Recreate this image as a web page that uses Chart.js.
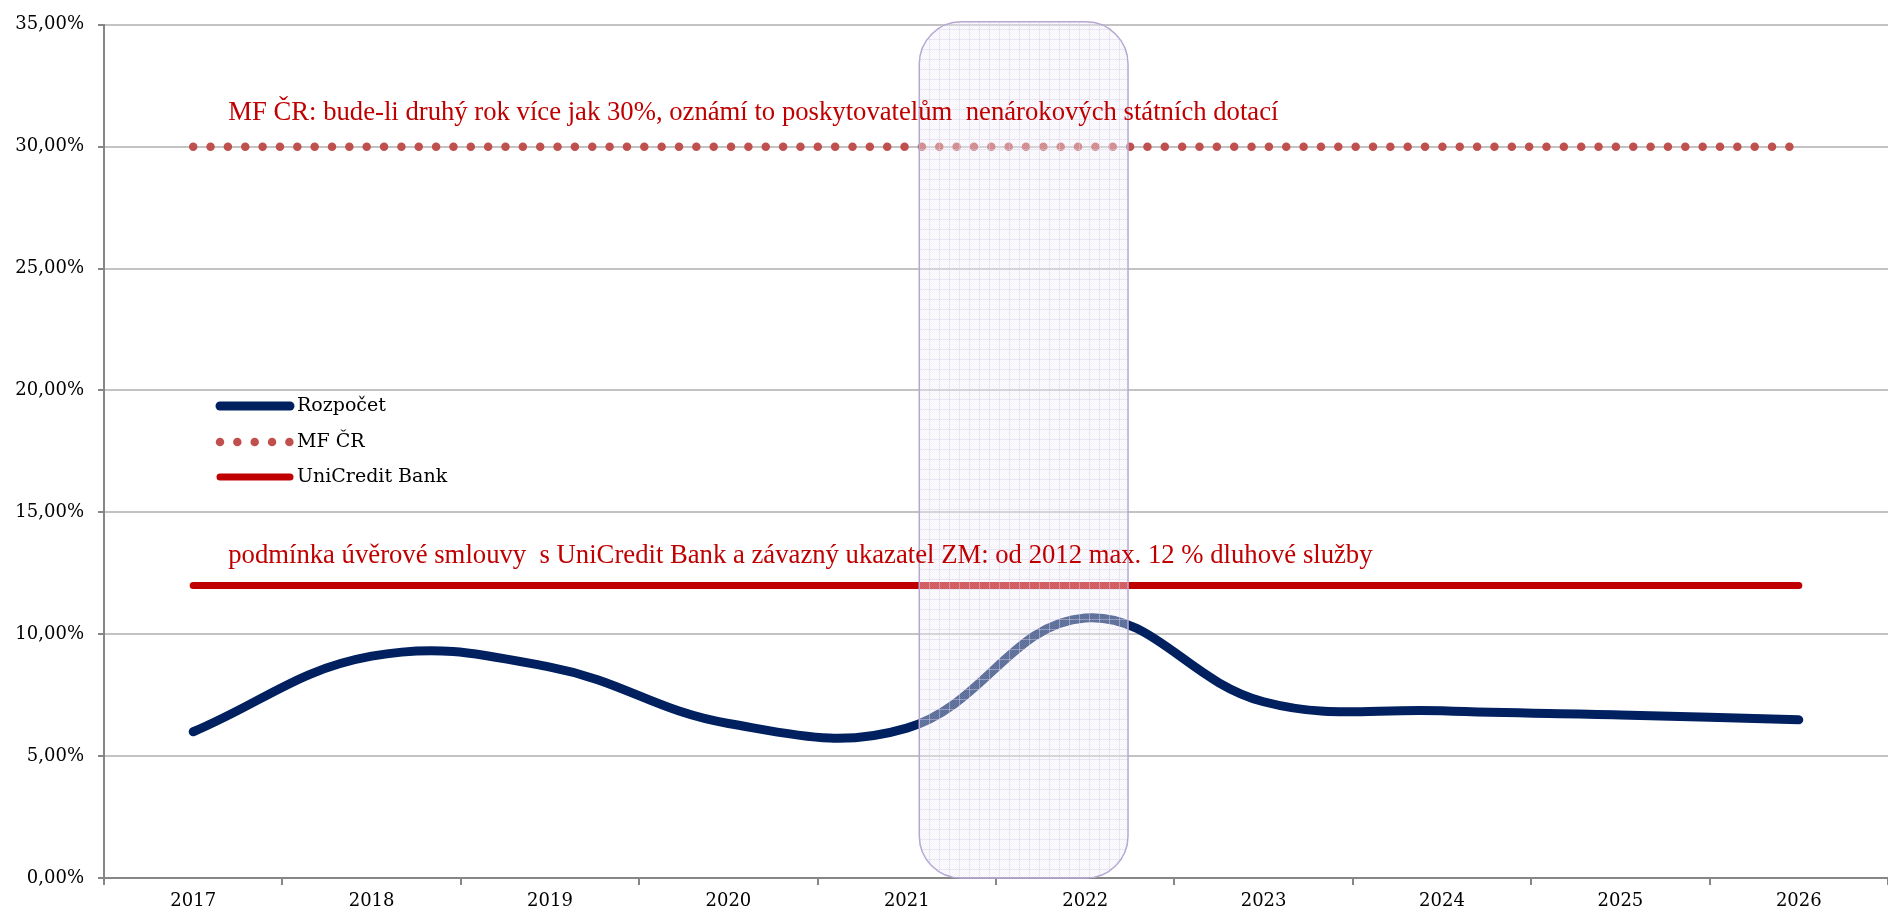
<!DOCTYPE html>
<html>
<head>
<meta charset="utf-8">
<title>Dluhová služba</title>
<script src="https://cdn.jsdelivr.net/npm/chart.js@4.4.1/dist/chart.umd.min.js"></script>
<style>
  html, body { margin: 0; padding: 0; background: #fff; }
  #wrap { width: 1888px; height: 916px; }
</style>
</head>
<body>
<div id="wrap"><canvas id="debt-chart" width="1888" height="916"></canvas></div>
<script>
// data (percent)
const years = ['2017', '2018', '2019', '2020', '2021', '2022', '2023', '2024', '2025', '2026'];
const rozpocet = [6.0, 9.1, 8.65, 6.34, 6.15, 10.67, 7.23, 6.86, 6.69, 6.49];
const mfCr = [30, 30, 30, 30, 30, 30, 30, 30, 30, 30];
const uniCredit = [12, 12, 12, 12, 12, 12, 12, 12, 12, 12];
const yTicks = [0, 5, 10, 15, 20, 25, 30, 35];

const mfNote = 'MF ČR: bude-li druhý rok více jak 30%, oznámí to poskytovatelům  nenárokových státních dotací';
const bankNote = 'podmínka úvěrové smlouvy  s UniCredit Bank a závazný ukazatel ZM: od 2012 max. 12 % dluhové služby';

// highlighted period 2021-2022 (category index units / percent)
const highlightX = [4.07, 5.24];
const highlightY = [0, 35.12];

const RED = '#c00000';
const TICK_FONT = { family: 'DejaVu Serif', size: 18 };

function fmtPct(v) {
  return v.toFixed(2).replace('.', ',') + '%';
}

function makeHatch(ctx) {
  const c = document.createElement('canvas');
  c.width = 10;
  c.height = 10;
  const p = c.getContext('2d');
  for (let y = 0; y < 10; y++) {
    for (let x = 0; x < 10; x++) {
      p.fillStyle = (x + y) % 2 ? 'rgba(255,255,255,0.4)' : 'rgba(226,221,240,0.4)';
      p.fillRect(x, y, 1, 1);
    }
  }
  p.fillStyle = 'rgba(214,206,232,0.45)';
  p.fillRect(9, 0, 1, 10);
  p.fillRect(0, 9, 10, 1);
  return ctx.createPattern(c, 'repeat');
}

function roundRect(ctx, x, y, w, h, r) {
  ctx.beginPath();
  ctx.moveTo(x + r, y);
  ctx.lineTo(x + w - r, y);
  ctx.arcTo(x + w, y, x + w, y + r, r);
  ctx.lineTo(x + w, y + h - r);
  ctx.arcTo(x + w, y + h, x + w - r, y + h, r);
  ctx.lineTo(x + r, y + h);
  ctx.arcTo(x, y + h, x, y + h - r, r);
  ctx.lineTo(x, y + r);
  ctx.arcTo(x, y, x + r, y, r);
  ctx.closePath();
}

const overlays = {
  id: 'overlays',
  afterDatasetsDraw(chart) {
    const ctx = chart.ctx;
    const xs = chart.scales.x;
    const ys = chart.scales.y;

    // highlighted period
    const x0 = xs.getPixelForValue(highlightX[0]);
    const x1 = xs.getPixelForValue(highlightX[1]);
    const yTop = ys.getPixelForValue(highlightY[1]);
    const yBot = ys.getPixelForValue(highlightY[0]);
    ctx.save();
    roundRect(ctx, x0, yTop, x1 - x0, yBot - yTop, 42);
    ctx.fillStyle = makeHatch(ctx);
    ctx.fill();
    ctx.strokeStyle = '#b6a8d2';
    ctx.lineWidth = 1.5;
    ctx.stroke();
    ctx.restore();

    // notes above the limits
    ctx.save();
    ctx.fillStyle = RED;
    ctx.font = '26.7px "Liberation Serif"';
    ctx.textBaseline = 'alphabetic';
    ctx.textAlign = 'left';
    const noteX = xs.getPixelForValue(0) + 35;
    ctx.fillText(mfNote, noteX, ys.getPixelForValue(mfCr[0]) - 27);
    ctx.fillText(bankNote, noteX, ys.getPixelForValue(uniCredit[0]) - 22);
    ctx.restore();

    // legend inside the plot
    ctx.save();
    const lx = chart.chartArea.left + 116;
    const rows = [406, 442, 477];
    chart.data.datasets.forEach((ds, i) => {
      const y = rows[i];
      ctx.beginPath();
      ctx.strokeStyle = ds.borderColor;
      ctx.lineWidth = ds.borderWidth;
      ctx.lineCap = 'round';
      ctx.setLineDash(ds.borderDash || []);
      ctx.moveTo(lx, y);
      ctx.lineTo(lx + 70, y);
      ctx.stroke();
      ctx.setLineDash([]);
      ctx.fillStyle = '#000';
      ctx.font = '19px "DejaVu Serif"';
      ctx.textBaseline = 'middle';
      ctx.fillText(ds.label, lx + 77, y);
    });
    ctx.restore();
  }
};

const ctx = document.getElementById('debt-chart');
new Chart(ctx, {
  type: 'line',
  data: {
    labels: years,
    datasets: [
      {
        label: 'Rozpočet',
        data: rozpocet,
        borderColor: '#002060',
        borderWidth: 9,
        tension: 0.4,
        borderCapStyle: 'round',
        borderJoinStyle: 'round',
        pointRadius: 0
      },
      {
        label: 'MF ČR',
        data: mfCr,
        borderColor: '#c0504d',
        borderWidth: 8.5,
        borderDash: [0, 17.35],
        borderCapStyle: 'round',
        pointRadius: 0
      },
      {
        label: 'UniCredit Bank',
        data: uniCredit,
        borderColor: RED,
        borderWidth: 7,
        borderCapStyle: 'round',
        pointRadius: 0
      }
    ]
  },
  options: {
    responsive: false,
    animation: false,
    devicePixelRatio: 1,
    layout: { padding: { top: 21, right: 0, bottom: 0, left: 0 } },
    plugins: {
      legend: { display: false },
      tooltip: { enabled: false }
    },
    scales: {
      x: {
        offset: true,
        grid: {
          offset: true,
          drawOnChartArea: false,
          tickLength: 7,
          color: '#868686',
          lineWidth: 2
        },
        border: { color: '#868686', width: 2 },
        ticks: { font: TICK_FONT, color: '#000', padding: 6, maxRotation: 0 },
        afterFit(scale) { scale.height = 38; }
      },
      y: {
        min: yTicks[0],
        max: yTicks[yTicks.length - 1],
        afterBuildTicks(scale) { scale.ticks = yTicks.map(v => ({ value: v })); },
        grid: {
          color: '#c3c3c3',
          lineWidth: 2,
          tickColor: '#868686',
          tickLength: 6
        },
        border: { color: '#868686', width: 2 },
        ticks: {
          font: TICK_FONT,
          color: '#000',
          padding: 14,
          callback: v => fmtPct(v)
        },
        afterFit(scale) { scale.width = 104; }
      }
    }
  },
  plugins: [overlays]
});
</script>
</body>
</html>
